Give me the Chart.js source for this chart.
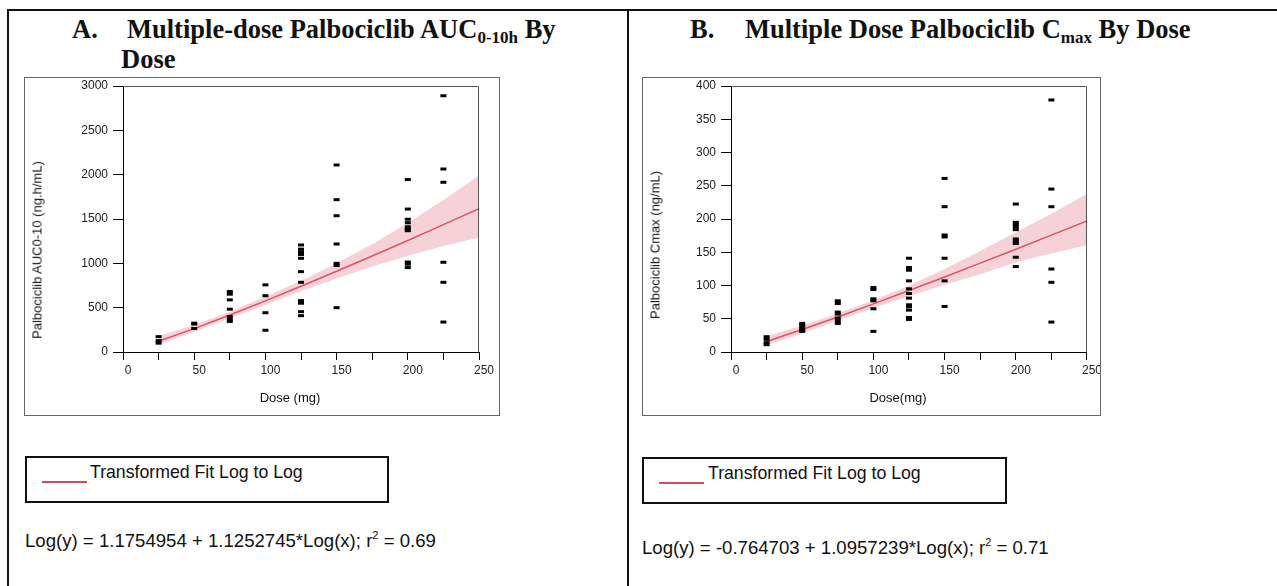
<!DOCTYPE html>
<html lang="en">
<head>
<meta charset="UTF-8">
<title>Palbociclib AUC and Cmax by Dose</title>
<script src="https://cdn.jsdelivr.net/npm/chart.js"></script>
<style>
  body {
    margin: 0;
    width: 1277px;
    height: 586px;
    position: relative;
    overflow: hidden;
    background: #fff;
    font-family: 'Liberation Sans', Arial, sans-serif;
    color: #111;
  }
  .rule { position: absolute; background: #111; }
  .title {
    position: absolute;
    font-family: 'Liberation Serif', 'Times New Roman', serif;
    font-weight: bold;
    font-size: 26.5px;
    line-height: 26px;
    white-space: nowrap;
    color: #111;
  }
  .title sub { font-size: 17px; vertical-align: -5px; line-height: 0; }
  .frame { position: absolute; box-sizing: border-box; border: 1px solid #666; }
  .frame canvas { position: absolute; left: 0; top: 0; }
  .ytitle {
    position: absolute;
    font-size: 13px;
    white-space: nowrap;
    transform: translate(-50%, -50%) rotate(-90deg);
  }
  .xtitle {
    position: absolute;
    font-size: 13px;
    white-space: nowrap;
    transform: translate(-50%, -50%);
  }
  .legend { position: absolute; box-sizing: border-box; border: 2px solid #111; }
  .legend .swatch { position: absolute; height: 2px; background: #d9475a; }
  .legend span { position: absolute; font-size: 17.7px; white-space: nowrap; }
  .equation { position: absolute; font-size: 18.6px; white-space: nowrap; }
  .equation sup { font-size: 11px; vertical-align: 8px; line-height: 0; }
</style>
</head>
<body>
  <!-- table borders -->
  <div class="rule" style="left:7px; top:9px; width:1270px; height:2px;"></div>
  <div class="rule" style="left:7px; top:9px; width:2px; height:577px;"></div>
  <div class="rule" style="left:627px; top:9px; width:2px; height:577px;"></div>

  <!-- panel titles -->
  <div class="title" style="left:72px; top:16px;">A.</div>
  <div class="title" style="left:127px; top:16px;">Multiple-dose Palbociclib AUC<sub>0-10h</sub> By</div>
  <div class="title" style="left:121px; top:46px;">Dose</div>
  <div class="title" style="left:690px; top:16px;">B.</div>
  <div class="title" style="left:745px; top:16px;">Multiple Dose Palbociclib C<sub>max</sub> By Dose</div>

  <div class="frame" style="left:24px; top:77px; width:476px; height:339px;">
    <canvas id="chartA" width="474" height="337"></canvas>
  </div>
  <div class="frame" style="left:642px; top:77px; width:459px; height:339px;">
    <canvas id="chartB" width="457" height="337"></canvas>
  </div>

  <div class="ytitle" style="left:37px; top:250px;">Palbociclib AUC0-10 (ng.h/mL)</div>
  <div class="xtitle" style="left:290px; top:397px;">Dose (mg)</div>
  <div class="ytitle" style="left:655px; top:245px;">Palbociclib Cmax (ng/mL)</div>
  <div class="xtitle" style="left:898px; top:397px;">Dose(mg)</div>

  <div class="legend" style="left:25px; top:456px; width:364px; height:47px;">
    <div class="swatch" style="left:15px; top:23px; width:45px;"></div>
    <span style="left:63px; top:4px;">Transformed Fit Log to Log</span>
  </div>
  <div class="legend" style="left:642px; top:457px; width:365px; height:47px;">
    <div class="swatch" style="left:15px; top:23px; width:45px;"></div>
    <span style="left:64px; top:4px;">Transformed Fit Log to Log</span>
  </div>

  <div class="equation" style="left:25px; top:530px;">Log(y) = 1.1754954 + 1.1252745*Log(x); r<sup>2</sup> = 0.69</div>
  <div class="equation" style="left:642px; top:537px;">Log(y) = -0.764703 + 1.0957239*Log(x); r<sup>2</sup> = 0.71</div>

  <script>
    const doseLevels = [25, 50, 75, 100, 125, 150, 200, 225];
    const aucValues = [
      [173, 128, 100],
      [325, 315, 265],
      [682, 652, 588, 483, 400, 371, 345],
      [757, 635, 443, 245],
      [1207, 1160, 1130, 1100, 1057, 906, 786, 580, 565, 550, 455, 410],
      [2109, 1718, 1537, 1218, 1000, 975, 500],
      [1945, 1612, 1497, 1458, 1413, 1386, 1368, 1015, 990, 952],
      [2890, 2064, 1914, 1012, 786, 338]
    ];
    const cmaxValues = [
      [23, 19, 14, 11],
      [43, 40, 36, 33, 31],
      [77, 73, 60, 57, 51, 47, 43],
      [97, 94, 80, 77, 65, 31],
      [141, 127, 123, 107, 95, 88, 81, 71, 68, 63, 52, 49],
      [261, 218.5, 176, 173, 141, 107, 68.5],
      [222.5, 195, 191.5, 188, 184, 170, 166.5, 163, 142.5, 128.5],
      [379, 245, 218.5, 124.8, 104.8, 45]
    ];

    // fitted curve and its confidence band
    const fitDose = [25, 50, 75, 100, 125, 150, 175, 200, 225, 250];
    const aucFit = [121, 264, 417, 577, 742, 911, 1083, 1258, 1436, 1617];
    const aucUpper = [180, 305, 455, 625, 800, 1000, 1215, 1455, 1715, 1990];
    const aucLower = [80, 228, 380, 530, 685, 830, 965, 1085, 1195, 1290];
    const cmaxFit = [15.8, 33.8, 52.7, 72.3, 92.4, 112.8, 133.6, 154.6, 175.8, 197];
    const cmaxUpper = [23.5, 40, 58, 78, 100, 125, 152, 180, 208, 238];
    const cmaxLower = [10, 28, 47, 66, 84, 101, 117, 135, 148, 161];

    const doseTicks = { min: 0, max: 250, step: 25, labelEvery: 50 };

    // gray box on the top and right side of the plot area
    const plotBox = {
      id: 'plotBox',
      afterDraw(chart) {
        const { ctx, chartArea: a } = chart;
        ctx.save();
        ctx.strokeStyle = '#555';
        ctx.lineWidth = 1;
        ctx.beginPath();
        ctx.moveTo(a.left, a.top + 0.5);
        ctx.lineTo(a.right - 0.5, a.top + 0.5);
        ctx.lineTo(a.right - 0.5, a.bottom);
        ctx.stroke();
        ctx.restore();
      }
    };

    function pairs(xs, ys) {
      return xs.map((x, i) => ({ x: x, y: ys[i] }));
    }

    function makeChart(id, values, fit, lower, upper, yMax, yStep, yWidth, rightPad) {
      const points = [];
      doseLevels.forEach((d, i) => values[i].forEach(v => points.push({ x: d, y: v })));

      return new Chart(document.getElementById(id), {
        type: 'scatter',
        data: {
          datasets: [
            {
              data: points,
              pointStyle: 'line',
              pointRadius: 3,
              borderWidth: 3,
              borderColor: '#000',
              backgroundColor: '#000',
              order: 0
            },
            {
              type: 'line',
              data: pairs(fitDose, fit),
              borderColor: '#dc5563',
              borderWidth: 1.5,
              pointRadius: 0,
              fill: false,
              order: 1
            },
            {
              type: 'line',
              data: pairs(fitDose, upper),
              borderColor: 'transparent',
              borderWidth: 0,
              pointRadius: 0,
              backgroundColor: 'rgba(222, 85, 108, 0.27)',
              fill: '+1',
              order: 2
            },
            {
              type: 'line',
              data: pairs(fitDose, lower),
              borderColor: 'transparent',
              borderWidth: 0,
              pointRadius: 0,
              fill: false,
              order: 3
            }
          ]
        },
        options: {
          responsive: false,
          animation: false,
          events: [],
          layout: { padding: { left: 0, top: 8, right: rightPad, bottom: 0 } },
          plugins: {
            legend: { display: false },
            tooltip: { enabled: false }
          },
          scales: {
            x: {
              type: 'linear',
              min: doseTicks.min,
              max: doseTicks.max,
              border: { color: '#000', width: 1 },
              grid: { drawOnChartArea: false, drawTicks: true, tickLength: 8, color: '#000' },
              ticks: {
                stepSize: doseTicks.step,
                autoSkip: false,
                maxRotation: 0,
                padding: 3,
                labelOffset: 5,
                color: '#222',
                font: { family: "'Liberation Sans', Arial", size: 12 },
                callback: v => (v % doseTicks.labelEvery === 0 ? String(v) : '')
              },
              afterFit: s => { s.height = 63; }
            },
            y: {
              min: 0,
              max: yMax,
              border: { color: '#000', width: 1 },
              grid: { drawOnChartArea: false, drawTicks: true, tickLength: 10, color: '#000' },
              ticks: {
                stepSize: yStep,
                padding: 5,
                color: '#222',
                font: { family: "'Liberation Sans', Arial", size: 12 },
                callback: v => String(v)
              },
              afterFit: s => {
                s.width = yWidth;
                s.paddingTop = 0;
                s.paddingBottom = 0;
              }
            }
          }
        },
        plugins: [plotBox]
      });
    }

    makeChart('chartA', aucValues, aucFit, aucLower, aucUpper, 3000, 500, 98, 20);
    makeChart('chartB', cmaxValues, cmaxFit, cmaxLower, cmaxUpper, 400, 50, 88, 12);
  </script>
</body>
</html>
